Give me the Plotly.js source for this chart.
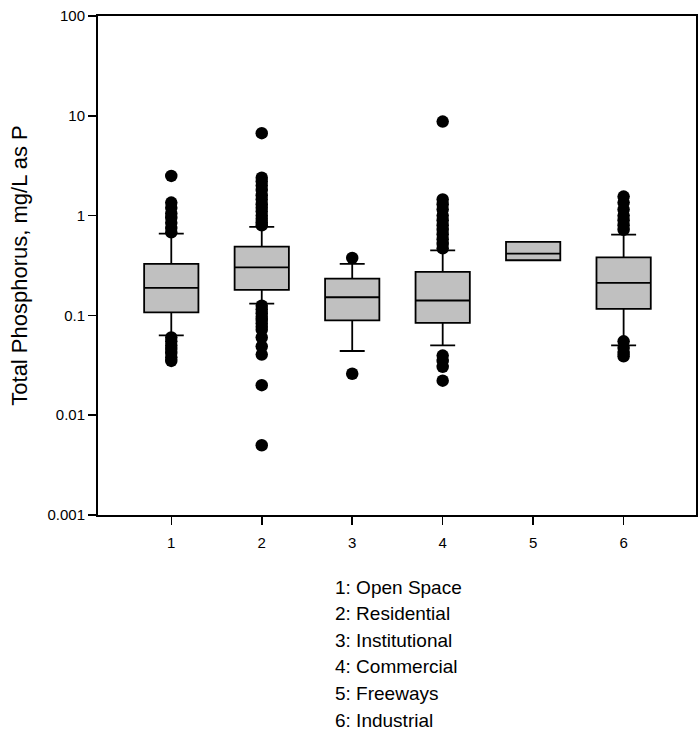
<!DOCTYPE html>
<html>
<head>
<meta charset="utf-8">
<script src="https://cdn.plot.ly/plotly-3.0.1.min.js"></script>
<style>html,body{margin:0;padding:0;background:#fff;}</style>
</head>
<body>
<div id="chart" style="width:698px;height:736px;"></div>
<script>
// ---- data ----
var categories = [1, 2, 3, 4, 5, 6];
var categoryNames = ["Open Space", "Residential", "Institutional", "Commercial", "Freeways", "Industrial"];
var lowerWhisker = [0.063, 0.131, 0.044, 0.050, 0.357, 0.050];
var q1Values     = [0.107, 0.180, 0.089, 0.084, 0.357, 0.116];
var medianValues = [0.189, 0.303, 0.152, 0.141, 0.416, 0.212];
var q3Values     = [0.328, 0.489, 0.234, 0.273, 0.545, 0.382];
var upperWhisker = [0.66, 0.77, 0.328, 0.449, 0.545, 0.645];

var outliers1 = [2.5, 1.35, 1.2, 1.05, 0.95, 0.85, 0.75, 0.68, 0.060, 0.055, 0.050, 0.046, 0.042, 0.038, 0.035];
var outliers2 = [6.7, 2.4, 2.2, 2.0, 1.8, 1.6, 1.45, 1.3, 1.2, 1.1, 1.0, 0.93, 0.86, 0.8,
                 0.125, 0.115, 0.105, 0.097, 0.09, 0.083, 0.077, 0.072, 0.06, 0.049, 0.0405, 0.02, 0.005];
var outliers3 = [0.377, 0.026];
var outliers4 = [8.75, 1.45, 1.3, 1.15, 1.0, 0.9, 0.8, 0.72, 0.65, 0.58, 0.52, 0.47, 0.0396, 0.035, 0.0305, 0.0222];
var outliers5 = [];
var outliers6 = [1.55, 1.35, 1.15, 1.0, 0.9, 0.8, 0.72, 0.055, 0.047, 0.042, 0.039];

var yTickVals = [0.001, 0.01, 0.1, 1, 10, 100];
var yTickText = ["0.001", "0.01", "0.1", "1", "10", "100"];
var yTitle = "Total Phosphorus, mg/L as P";

// ---- build ----
var outlierSets = [outliers1, outliers2, outliers3, outliers4, outliers5, outliers6];
var ox = [], oy = [];
outlierSets.forEach(function (set, i) {
  set.forEach(function (v) { ox.push(categories[i]); oy.push(v); });
});

var font = '"Liberation Sans", Arial, sans-serif';

var boxTrace = {
  type: 'box',
  x: categories,
  q1: q1Values,
  median: medianValues,
  q3: q3Values,
  lowerfence: lowerWhisker,
  upperfence: upperWhisker,
  width: 0.6,
  whiskerwidth: 0.46,
  fillcolor: '#c0c0c0',
  line: {color: '#000000', width: 1.8},
  boxpoints: false,
  hoverinfo: 'skip',
  showlegend: false
};

var outlierTrace = {
  type: 'scatter',
  mode: 'markers',
  x: ox,
  y: oy,
  marker: {color: '#000000', size: 12.5, line: {width: 0}},
  hoverinfo: 'skip',
  showlegend: false
};

var W = 698, H = 736, L = 98, R = 2, T = 16, B = 221;
var plotH = H - T - B;
var annotations = categoryNames.map(function (name, i) {
  var py = 587 + i * 26.6;
  return {
    text: categories[i] + ': ' + name,
    xref: 'paper', yref: 'paper',
    x: (333 - L) / (W - L - R),
    y: (H - B - py) / plotH,
    xanchor: 'left', yanchor: 'middle',
    showarrow: false,
    font: {family: font, size: 19, color: '#000'}
  };
});

var layout = {
  width: W, height: H,
  margin: {l: L, r: R, t: T, b: B, pad: 0},
  paper_bgcolor: '#ffffff',
  plot_bgcolor: '#ffffff',
  font: {family: font, size: 15, color: '#000'},
  showlegend: false,
  xaxis: {
    type: 'linear',
    range: [0.19, 6.8],
    tickvals: categories,
    ticktext: categories.map(String),
    ticks: 'outside', ticklen: 8, tickwidth: 1.5, tickcolor: '#000',
    ticklabelstandoff: 5,
    showline: true, linewidth: 2, linecolor: '#000', mirror: true,
    showgrid: false, zeroline: false,
    tickfont: {family: font, size: 15, color: '#000'}
  },
  yaxis: {
    type: 'log',
    range: [-3, 2],
    tickvals: yTickVals,
    ticktext: yTickText,
    ticks: 'outside', ticklen: 8, tickwidth: 1.5, tickcolor: '#000',
    showline: true, linewidth: 2, linecolor: '#000', mirror: true,
    showgrid: false, zeroline: false,
    tickfont: {family: font, size: 15, color: '#000'},
    title: {text: yTitle, font: {family: font, size: 22, color: '#000'}, standoff: 14}
  },
  annotations: annotations
};

Plotly.newPlot('chart', [boxTrace, outlierTrace], layout, {displayModeBar: false, staticPlot: true});
</script>
</body>
</html>
